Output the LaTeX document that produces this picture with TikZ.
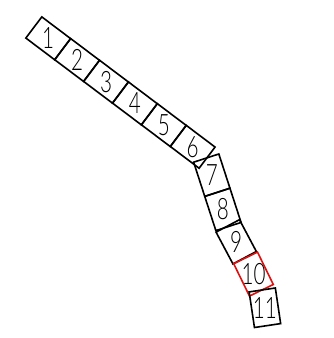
\documentclass[tikz,border=0pt]{standalone}
\usepackage{fontspec}
\newfontfamily\digfont{Lato Light}[FakeStretch=0.7]
\definecolor{boxred}{RGB}{222,16,16}
\begin{document}
\begin{tikzpicture}[x=1pt,y=-1pt,
  box/.style={draw=black, line width=1.6pt, rectangle, inner sep=0pt,
    minimum width=36pt, minimum height=26.5pt},
  redbox/.style={box, draw=boxred},
  num/.style={inner sep=0pt, font=\digfont\fontsize{29.5}{29.5}\selectfont}]
\useasboundingbox (0,0) rectangle (334,338);
% boxes
\node[box, rotate=-37] (b1) at (48.2,38.3) {};
\node[box, rotate=-37] (b2) at (77.1,60.0) {};
\node[box, rotate=-37] (b3) at (106.0,81.7) {};
\node[box, rotate=-37] (b4) at (134.9,103.4) {};
\node[box, rotate=-37] (b5) at (163.8,125.1) {};
\node[box, rotate=-37] (b6) at (192.7,146.8) {};
\node[box, rotate=-72] (b7) at (211.8,175.2) {};
\node[box, rotate=-72] (b8) at (222.9,209.4) {};
\node[box, rotate=-62] (b9) at (236.2,241.8) {};
\node[redbox, rotate=-64] (b10) at (253.5,274.1) {};
\node[box, rotate=-81.5] (b11) at (264.9,307.75) {};
% labels
\node[num] (t1) at (b1.center) {1};
\node[num] (t2) at (b2.center) {2};
\node[num] (t3) at (b3.center) {3};
\node[num] (t4) at (b4.center) {4};
\node[num] (t5) at (b5.center) {5};
\node[num] (t6) at (b6.center) {6};
\node[num] (t7) at (b7.center) {7};
\node[num] (t8) at (b8.center) {8};
\node[num] (t9) at (b9.center) {9};
\node[num] (t10) at (b10.center) {10};
\node[num] (t11) at (b11.center) {11};
\end{tikzpicture}
\end{document}
